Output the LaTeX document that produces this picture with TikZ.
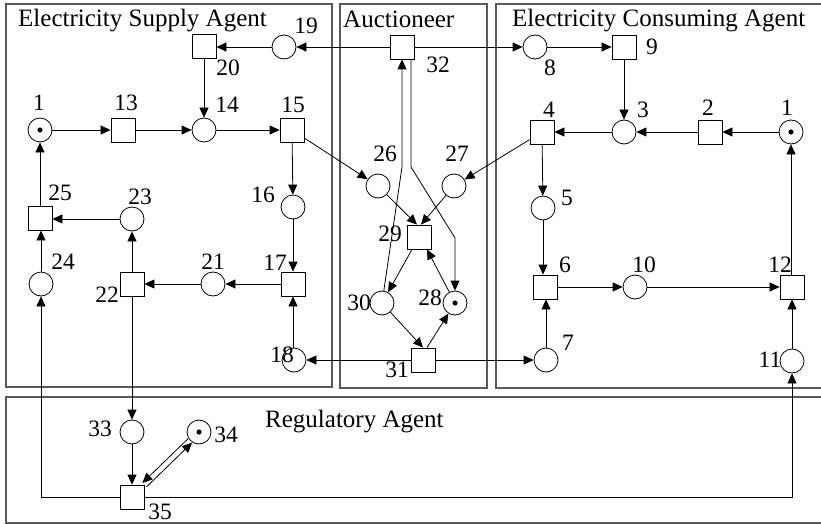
\documentclass[tikz,border=0pt]{standalone}
\usepackage{fontspec}
\setmainfont{Liberation Serif}
\usetikzlibrary{arrows.meta,calc}
\begin{document}
\begin{tikzpicture}[x=1pt,y=-1pt,
  pl/.style={circle,draw,line width=0.8pt,minimum size=24pt,inner sep=0pt},
  tr/.style={rectangle,draw,line width=0.8pt,minimum size=24pt,inner sep=0pt},
  tok/.style={pl,path picture={\fill (path picture bounding box.center) circle (2.6pt);}},
  arr/.style={-{Triangle[length=10pt,width=9pt]},line width=0.8pt},
  ln/.style={line width=0.8pt},
  agbox/.style={draw=black!65,line width=1.6pt},
  lbl/.style={font=\fontsize{23.5}{23.5}\selectfont,inner sep=0pt},
  hd/.style={font=\fontsize{25}{25}\selectfont,inner sep=0pt,anchor=base west}]
\useasboundingbox (0,0) rectangle (821,524);
% agent boxes
\draw[agbox] (6,4) rectangle (332,387);
\draw[agbox] (340,4) rectangle (487,388);
\draw[agbox] (496,4) rectangle (835,388);
\draw[agbox] (6,397) rectangle (835,523);
\node[hd] (hS) at (18,27) {Electricity Supply Agent};
\node[hd] (hA) at (343,28) {Auctioneer};
\node[hd] (hC) at (512,27) {Electricity Consuming Agent};
\node[hd] (hR) at (265,427) {Regulatory Agent};
% supply agent
\node[tok] (P1) at (40,130) {};
\node[tr] (T13) at (123,130) {};
\node[pl] (P14) at (204,130) {};
\node[tr] (T15) at (292,130) {};
\node[tr] (T20) at (204,46) {};
\node[pl] (P19) at (284,47) {};
\node[pl] (P16) at (293,207) {};
\node[tr] (T17) at (293,284) {};
\node[pl] (P18) at (294,360) {};
\node[pl] (P21) at (213,284) {};
\node[tr] (T22) at (132,284) {};
\node[pl] (P23) at (132,219) {};
\node[tr] (T25) at (40,218) {};
\node[pl] (P24) at (41,284) {};
% auctioneer
\node[tr] (T32) at (402,47) {};
\node[pl] (P26) at (378,186) {};
\node[pl] (P27) at (454,186) {};
\node[tr] (T29) at (419,237) {};
\node[pl] (P30) at (382,303) {};
\node[tok] (P28) at (455,303) {};
\node[tr] (T31) at (423,360) {};
% consuming agent
\node[pl] (P8) at (535,47) {};
\node[tr] (T9) at (624,47) {};
\node[tr] (T4) at (542,132) {};
\node[pl] (P3) at (624,132) {};
\node[tr] (T2) at (710,132) {};
\node[tok] (P1c) at (791,132) {};
\node[pl] (P5) at (543,208) {};
\node[tr] (T6) at (545,287) {};
\node[pl] (P10) at (635,287) {};
\node[tr] (T12) at (792,287) {};
\node[pl] (P7) at (546,360) {};
\node[pl] (P11) at (792,361) {};
% regulatory agent
\node[pl] (P33) at (132,432) {};
\node[tok] (P34) at (199,432) {};
\node[tr] (T35) at (132,497) {};
% labels
\node[lbl] (l1) at (39,103) {1};
\node[lbl] (l13) at (126,103) {13};
\node[lbl] (l14) at (227,105) {14};
\node[lbl] (l15) at (293,105) {15};
\node[lbl] (l20) at (228,68) {20};
\node[lbl] (l19) at (306,26) {19};
\node[lbl] (l25) at (60,193) {25};
\node[lbl] (l23) at (140,197) {23};
\node[lbl] (l16) at (263,195) {16};
\node[lbl] (l24) at (63,262) {24};
\node[lbl] (l21) at (213,262) {21};
\node[lbl] (l17) at (275,263) {17};
\node[lbl] (l22) at (107,295) {22};
\node[lbl] (l18) at (282,355) {18};
\node[lbl] (l32) at (438,65) {32};
\node[lbl] (l26) at (385,154) {26};
\node[lbl] (l27) at (457,154) {27};
\node[lbl] (l29) at (390,234) {29};
\node[lbl] (l30) at (359,303) {30};
\node[lbl] (l28) at (430,298) {28};
\node[lbl] (l31) at (397,370) {31};
\node[lbl] (l8) at (550,68) {8};
\node[lbl] (l9) at (652,47) {9};
\node[lbl] (l4) at (549,110) {4};
\node[lbl] (l3) at (643,110) {3};
\node[lbl] (l2) at (708,108) {2};
\node[lbl] (l1c) at (787,108) {1};
\node[lbl] (l5) at (567,198) {5};
\node[lbl] (l6) at (565,265) {6};
\node[lbl] (l10) at (644,265) {10};
\node[lbl] (l12) at (780,265) {12};
\node[lbl] (l7) at (568,343) {7};
\node[lbl] (l11) at (770,360) {11};
\node[lbl] (l33) at (100,429) {33};
\node[lbl] (l34) at (226,435) {34};
\node[lbl] (l35) at (160,512) {35};
% helper coordinates
\coordinate (a1) at (402,167);
\coordinate (b1) at (411,167);
\coordinate (b2) at (455,238);
\coordinate (c1) at (41,497);
\coordinate (c2) at (792,497);
% supply arcs
\draw[arr] (P1) -- (T13);
\draw[arr] (T13) -- (P14);
\draw[arr] (P14) -- (T15);
\draw[arr] (T20) -- (P14);
\draw[arr] (P19) -- (P19 -| T20.east);
\draw[arr] (T32) -- (P19);
\draw[arr] (T15) -- (P16);
\draw[arr] (T15) -- (P26);
\draw[arr] (P16) -- (T17);
\draw[arr] (T17) -- (P21);
\draw[arr] (P21) -- (T22);
\draw[arr] (T22) -- (P23);
\draw[arr] (P23) -- (P23 -| T25.east);
\draw[arr] (P24) -- (P24 |- T25.south);
\draw[arr] (T25) -- (P1);
\draw[arr] (P18.north -| T17) -- (T17);
\draw[arr] (T31) -- (P18);
\draw[arr] (T22) -- (P33);
% auctioneer arcs
\draw[arr] (T32) -- (P8);
\draw[arr] (P30) -- (a1) -- (a1 |- T32.south);
\draw[arr] (b1 |- T32.south) -- (b1) -- (b2) -- (b2 |- P28.north);
\draw[arr] (P26) -- ([xshift=-2pt]T29.north);
\draw[arr] (P27) -- ([xshift=2pt]T29.north);
\draw[arr] (T29) -- (P30);
\draw[arr] (P28) -- ([xshift=8pt]T29.south);
\draw[arr] (P30) -- (T31.north);
\draw[arr] ([xshift=4pt]T31.north) -- (P28);
\draw[arr] (T31) -- (P7);
% consuming arcs
\draw[arr] (P8) -- (T9);
\draw[arr] (T9) -- (P3);
\draw[arr] (P3) -- (T4);
\draw[arr] (T2) -- (P3);
\draw[arr] (P1c) -- (T2);
\draw[arr] (T4) -- (P27);
\draw[arr] (T4) -- (P5);
\draw[arr] (P5.south) -- (P5.south |- T6.north);
\draw[arr] (P7.north) -- (P7.north |- T6.south);
\draw[arr] (T6) -- (P10);
\draw[arr] (P10) -- (T12);
\draw[arr] (P11) -- (T12);
\draw[arr] (T12.north -| P1c) -- (P1c.south);
% regulatory arcs
\draw[arr] (P33) -- (T35);
\draw[arr,transform canvas={shift={(-2pt,2pt)}}] (P34) -- (T35);
\draw[arr,transform canvas={shift={(2pt,-2pt)}}] (T35) -- (P34);
\draw[arr] (T35.west |- c1) -- (c1) -- (c1 |- P24.south);
\draw[arr] (T35.east |- c2) -- (c2) -- (c2 |- P11.south);
\end{tikzpicture}
\end{document}
